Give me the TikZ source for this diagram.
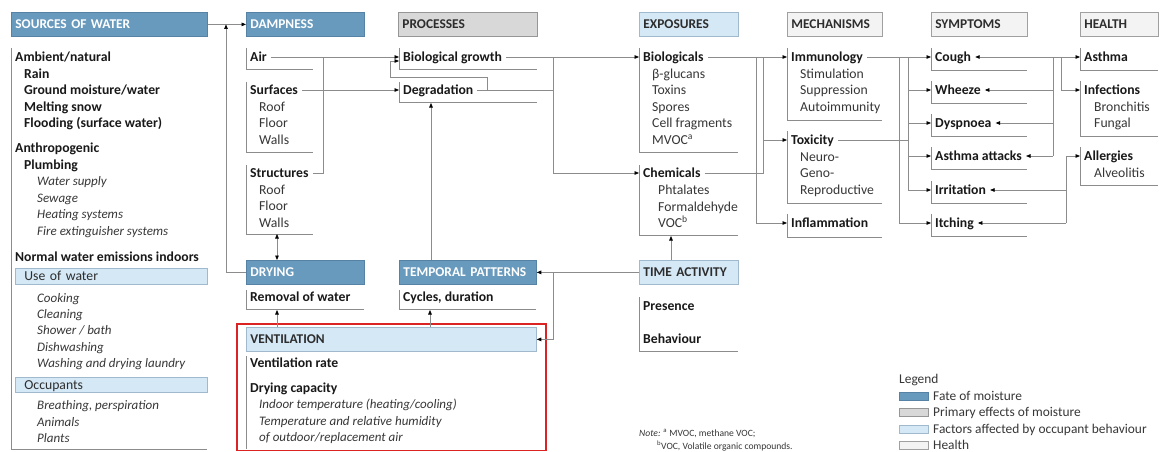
\documentclass[tikz,border=0pt]{standalone}
\usepackage{fontspec}
\setmainfont{Carlito}
\usetikzlibrary{arrows.meta,calc}
\definecolor{fateblue}{RGB}{104,154,190}
\definecolor{fateedge}{RGB}{85,130,165}
\definecolor{primgray}{RGB}{216,216,216}
\definecolor{primedge}{RGB}{150,150,150}
\definecolor{factblue}{RGB}{213,232,246}
\definecolor{factedge}{RGB}{160,185,205}
\definecolor{healthfill}{RGB}{243,243,243}
\definecolor{healthedge}{RGB}{160,160,160}
\definecolor{lngray}{RGB}{140,140,140}
\definecolor{txtdark}{RGB}{25,25,25}
\definecolor{txtmid}{RGB}{55,55,55}
\definecolor{hdrtxt}{RGB}{45,45,45}
\definecolor{redbox}{RGB}{220,35,35}
\begin{document}
\begin{tikzpicture}[x=1pt,y=-1pt,
  every node/.style={font=\fontsize{13.7}{16}\selectfont, text=txtdark},
  hdr/.style={anchor=north west, inner xsep=4pt, inner ysep=0pt, minimum height=24pt,
    text height=9pt, text depth=0pt, align=left, line width=0.8pt,
    font=\fontsize{13.4}{16}\selectfont\bfseries, text=hdrtxt},
  hfate/.style={hdr, fill=fateblue, draw=fateedge, text=white},
  hprim/.style={hdr, fill=primgray, draw=primedge},
  hfact/.style={hdr, fill=factblue, draw=factedge},
  hhealth/.style={hdr, fill=healthfill, draw=healthedge},
  subhdr/.style={anchor=north west, inner xsep=9pt, inner ysep=0pt, minimum height=16pt,
    text height=9pt, text depth=0pt, align=left, fill=factblue, draw=factedge, line width=0.8pt,
    text=hdrtxt},
  t/.style={anchor=base west, inner xsep=4pt, inner ysep=0pt, text height=9pt, text depth=0pt},
  tb/.style={t, font=\fontsize{13.7}{16}\selectfont\bfseries},
  tr/.style={t, text=txtmid},
  ti/.style={t, font=\fontsize{13}{16}\selectfont\itshape, text=txtmid},
  grp/.style={draw=lngray, line width=0.9pt},
  ln/.style={draw=lngray, line width=0.7pt},
  arr/.style={draw=lngray, line width=0.7pt, -{Triangle[length=4.5pt,width=3.6pt,color=black]}},
  arrboth/.style={draw=lngray, line width=0.7pt, {Triangle[length=4.5pt,width=3.6pt,color=black]}-{Triangle[length=4.5pt,width=3.6pt,color=black]}},
  legt/.style={anchor=base west, inner sep=0pt, font=\fontsize{13.4}{15}\selectfont, text=txtmid},
  notet/.style={anchor=base west, inner sep=0pt, font=\fontsize{9.6}{11}\selectfont, text=txtmid}
]
\useasboundingbox (0,0) rectangle (1162,452);
\fill[white] (0,0) rectangle (1162,452);

% ---------- header boxes ----------
\node[hfate, text width=188pt] (src) at (11,12) {SOURCES OF WATER};
\node[hfate, text width=110pt] (damp) at (246,12) {DAMPNESS};
\node[hprim, text width=131pt] (proc) at (398,12) {PROCESSES};
\node[hfact, text width=91pt] (expo) at (639,12) {EXPOSURES};
\node[hhealth, text width=87pt] (mech) at (787,12) {MECHANISMS};
\node[hhealth, text width=88pt] (symp) at (931,12) {SYMPTOMS};
\node[hhealth, text width=70pt] (hlth) at (1080,12) {HEALTH};
\node[hfate, text width=110pt] (dry) at (246,260) {DRYING};
\node[hfate, text width=129pt] (tp) at (399,260) {TEMPORAL PATTERNS};
\node[hfact, text width=282pt] (vent) at (246,327) {VENTILATION};
\node[hfact, text width=91pt] (ta) at (639,260) {TIME ACTIVITY};

% ---------- brackets ----------
\draw[grp] (11,48) |- (207,449);
\draw[grp] (246,48) |- (313,69);
\draw[grp] (246,82) |- (313,152);
\draw[grp] (246,165) |- (313,234);
\draw[grp] (399,48) |- (537,69);
\draw[grp] (399,82) |- (537,102);
\draw[grp] (639,48) |- (738,152);
\draw[grp] (639,165) |- (738,235);
\draw[grp] (787,48) |- (882,120);
\draw[grp] (787,131) |- (882,203);
\draw[grp] (787,214) |- (882,237);
\foreach \yy in {57,90,123,156,190,223}{\draw[grp] (931,\yy-9) |- (1027,\yy+13);}
\draw[grp] (1080,48) |- (1158,70);
\draw[grp] (1080,81) |- (1158,136);
\draw[grp] (1080,147) |- (1158,185);
\draw[grp] (246,290) |- (364,309);
\draw[grp] (399,290) |- (536,309);
\draw[grp] (639,297) |- (738,351);
\draw[grp] (246,356) -- (246,449);

% ---------- sources ----------
\node[tb] (s1) at (11,61.5) {Ambient/natural};
\node[tb] (s2) at (20,78.5) {Rain};
\node[tb] (s3) at (20,94.5) {Ground moisture/water};
\node[tb] (s4) at (20,111.5) {Melting snow};
\node[tb] (s5) at (20,127.5) {Flooding (surface water)};
\node[tb] (s6) at (11,152.5) {Anthropogenic};
\node[tb] (s7) at (20,169.5) {Plumbing};
\node[ti] (s8) at (33,185.5) {Water supply};
\node[ti] (s9) at (33,202.5) {Sewage};
\node[ti] (s10) at (33,218.5) {Heating systems};
\node[ti] (s11) at (33,235.5) {Fire extinguisher systems};
\node[tb] (s12) at (11,261.5) {Normal water emissions indoors};
\node[subhdr, text width=174pt] (uw) at (15,268) {Use of water};
\node[ti] (s13) at (33,302.5) {Cooking};
\node[ti] (s14) at (33,318.5) {Cleaning};
\node[ti] (s15) at (33,334.5) {Shower / bath};
\node[ti] (s16) at (33,351.5) {Dishwashing};
\node[ti] (s17) at (33,367.5) {Washing and drying laundry};
\node[subhdr, text width=174pt, minimum height=15pt] (occ) at (15,377) {Occupants};
\node[ti] (s18) at (33,409.5) {Breathing, perspiration};
\node[ti] (s19) at (33,426.5) {Animals};
\node[ti] (s20) at (33,442.5) {Plants};

% ---------- dampness ----------
\node[tb] (air) at (246,61.5) {Air};
\node[tb] (surf) at (246,94.5) {Surfaces};
\node[tr] (su1) at (255,111.5) {Roof};
\node[tr] (su2) at (255,127.5) {Floor};
\node[tr] (su3) at (255,144.5) {Walls};
\node[tb] (str) at (246,177.5) {Structures};
\node[tr] (st1) at (255,194.5) {Roof};
\node[tr] (st2) at (255,210.5) {Floor};
\node[tr] (st3) at (255,227.5) {Walls};

% ---------- processes ----------
\node[tb] (bg) at (399,61.5) {Biological growth};
\node[tb] (deg) at (399,94.5) {Degradation};

% ---------- exposures ----------
\node[tb] (bio) at (639,61.5) {Biologicals};
\node[tr] (b1) at (648,78.5) {β-glucans};
\node[tr] (b2) at (648,94.5) {Toxins};
\node[tr] (b3) at (648,111.5) {Spores};
\node[tr] (b4) at (648,127.5) {Cell fragments};
\node[tr] (b5) at (648,144.5) {MVOC\textsuperscript{a}};
\node[tb] (chem) at (639,177.5) {Chemicals};
\node[tr] (c1) at (654,194.5) {Phtalates};
\node[tr] (c2) at (654,211.5) {Formaldehyde};
\node[tr] (c3) at (654,227.5) {VOC\textsuperscript{b}};

% ---------- mechanisms ----------
\node[tb] (imm) at (787,61.5) {Immunology};
\node[tr] (m1) at (796,78.5) {Stimulation};
\node[tr] (m2) at (796,94.5) {Suppression};
\node[tr] (m3) at (796,111.5) {Autoimmunity};
\node[tb] (tox) at (787,144.5) {Toxicity};
\node[tr] (m4) at (796,161.5) {Neuro-};
\node[tr] (m5) at (796,177.5) {Geno-};
\node[tr] (m6) at (796,194.5) {Reproductive};
\node[tb] (infl) at (787,227.5) {Inflammation};

% ---------- symptoms ----------
\node[tb] (cough) at (931,61.5) {Cough};
\node[tb] (wh) at (931,94.5) {Wheeze};
\node[tb] (dys) at (931,127.5) {Dyspnoea};
\node[tb] (asa) at (931,160.5) {Asthma attacks};
\node[tb] (irr) at (931,194.5) {Irritation};
\node[tb] (itch) at (931,227.5) {Itching};

% ---------- health ----------
\node[tb] (asthma) at (1080,61.5) {Asthma};
\node[tb] (inf) at (1080,94.5) {Infections};
\node[tr] (h1) at (1090,111.5) {Bronchitis};
\node[tr] (h2) at (1090,127.5) {Fungal};
\node[tb] (all) at (1080,160.5) {Allergies};
\node[tr] (h3) at (1090,177.5) {Alveolitis};

% ---------- bottom ----------
\node[tb] (rem) at (246,301.5) {Removal of water};
\node[tb] (cyc) at (399,301.5) {Cycles, duration};
\node[tb] (pres) at (639,310.5) {Presence};
\node[tb] (beh) at (639,343.5) {Behaviour};
\node[tb] (vr) at (246,367.5) {Ventilation rate};
\node[tb] (dc) at (246,392.5) {Drying capacity};
\node[ti] (v1) at (255,408.5) {Indoor temperature (heating/cooling)};
\node[ti] (v2) at (255,425.5) {Temperature and relative humidity};
\node[ti] (v3) at (255,441.5) {of outdoor/replacement air};
\draw[redbox, line width=1.8pt] (237,324) rectangle (546,450.5);

% ---------- junction coordinates ----------
\coordinate (jS) at (226,24.5);
\coordinate (jA) at (323,57);
\coordinate (lpA) at (487,90);
\coordinate (jBG) at (553,57);
\coordinate (jE1) at (756,57);
\coordinate (jE2) at (763,57);
\coordinate (jM1) at (899,57);
\coordinate (jM2) at (908,57);
\coordinate (jH1) at (1053,57);
\coordinate (jH2) at (1061,57);
\coordinate (jH3) at (1066,156);
\coordinate (strB) at (277,234);
\coordinate (remB) at (277,310);
\coordinate (cycB) at (430,310);
\coordinate (degB) at (431,103);
\coordinate (jT) at (553,272);
\coordinate (chemB) at (671,236);

% ---------- connectors ----------
\draw[arr] (src.east) -- (damp.west);
\draw[arr] (dry.west) -| (jS);
\draw[arr] (air.east) -- (bg.west);
\draw[ln] (str.east) -| (jA);
\draw[arr] (surf.east) -- (deg.west);
\draw[ln] (deg.east) -- (deg.east -| jBG);
\draw[arr] (lpA) |- (390,77) |- ($(bg.west)+(0,4)$);
\draw[arr] (bg.east) -- (bio.west);
\draw[arr] (jBG) |- (chem.west);

\draw[arr] (bio.east) -- (imm.west);
\draw[ln] (chem.east) -| (jE2);
\draw[arr] (jE2 |- tox.west) -- (tox.west);
\draw[arr] (jE1) |- (infl.west);

\draw[arr] (imm.east) -- (cough.west);
\draw[ln] (tox.east) -- (tox.east -| jM2);
\draw[ln] (jM2) -- (jM2 |- irr.west);
\foreach \n in {wh,dys,asa,irr}{\draw[arr] (jM2 |- \n.west) -- (\n.west);}
\draw[arr] (jM1) |- (itch.west);

\draw[arrboth] (cough.east) -- (asthma.west);
\draw[ln] (jH1) -- (jH1 |- asa.east);
\foreach \n in {wh,dys,asa}{\draw[arr] (jH1 |- \n.east) -- (\n.east);}
\draw[arr] (jH2) |- (inf.west);
\draw[arr] (jH3) -- (all.west);
\draw[ln] (jH3) -- (jH3 |- itch.east);
\foreach \n in {irr,itch}{\draw[arr] (jH3 |- \n.east) -- (\n.east);}

\draw[arrboth] (strB) -- (strB |- dry.north);
\draw[arr] (vent.north -| remB) -- (remB);
\draw[arr] (vent.north -| cycB) -- (cycB);
\draw[arr] (tp.north -| degB) -- (degB);
\draw[arr] (ta.west) -- (tp.east);
\draw[arr] (jT) |- (vent.east);
\draw[arr] (ta.north -| chemB) -- (chemB);

% ---------- note ----------
\node[notet] (n1) at (639,436) {\textit{Note:} \textsuperscript{a} MVOC, methane VOC;};
\node[notet] (n2) at (657,449) {\textsuperscript{b}VOC, Volatile organic compounds.};

% ---------- legend ----------
\node[legt] (lg) at (899,383.5) {Legend};
\draw[fill=fateblue, draw=fateedge, line width=0.8pt] (899,392) rectangle (928,400);
\draw[fill=primgray, draw=primedge, line width=0.8pt] (899,408) rectangle (928,416);
\draw[fill=factblue, draw=factedge, line width=0.8pt] (899,425) rectangle (928,433);
\draw[fill=healthfill, draw=healthedge, line width=0.8pt] (899,441) rectangle (928,449);
\node[legt] (l1) at (933,400) {Fate of moisture};
\node[legt] (l2) at (933,416) {Primary effects of moisture};
\node[legt] (l3) at (933,433) {Factors affected by occupant behaviour};
\node[legt] (l4) at (933,449) {Health};
\end{tikzpicture}
\end{document}
